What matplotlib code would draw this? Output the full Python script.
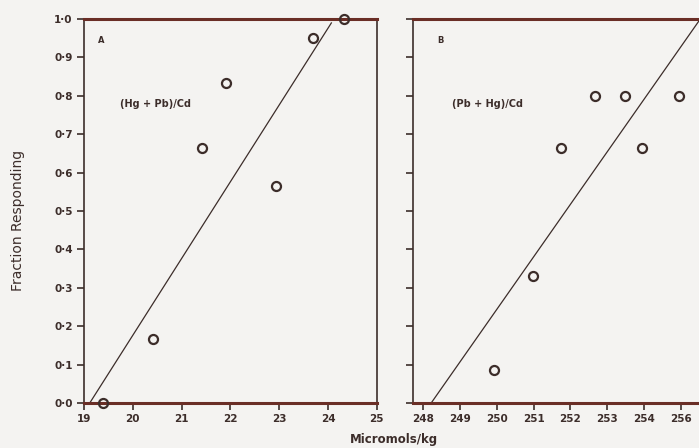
import matplotlib
matplotlib.use("Agg")
import matplotlib.pyplot as plt
import numpy as np

# panel A: (Hg + Pb)/Cd
a_dose = [19.4, 20.42, 21.42, 21.92, 22.94, 23.7, 24.33]
a_frac = [0.0, 0.167, 0.665, 0.834, 0.565, 0.95, 1.0]
a_fit_x = [19.12, 24.07]
a_fit_y = [0.0, 0.99]
a_xticks = [19, 20, 21, 22, 23, 24, 25]
a_xlabels = ["19", "20", "21", "22", "23", "24", "25"]

# panel B: (Pb + Hg)/Cd
b_dose = [249.93, 250.97, 251.73, 252.66, 253.48, 253.94, 254.95]
b_frac = [0.086, 0.33, 0.665, 0.80, 0.80, 0.665, 0.80]
b_fit_x = [248.22, 255.52]
b_fit_y = [0.0, 1.0]
b_xticks = [248, 249, 250, 251, 252, 253, 254, 255]
b_xlabels = ["248", "249", "250", "251", "252", "253", "254", "256"]

yticks = [0.0, 0.1, 0.2, 0.3, 0.4, 0.5, 0.6, 0.7, 0.8, 0.9, 1.0]
ylabels = ["0·0", "0·1", "0·2", "0·3", "0·4", "0·5", "0·6", "0·7", "0·8", "0·9", "1·0"]

INK = "#3c2d2a"
RULE = "#6a2e26"
PAPER = "#f4f3f1"

fig = plt.figure(figsize=(6.99, 4.48), dpi=100, facecolor=PAPER)
ax_a = fig.add_axes([0.120, 0.1004, 0.419, 0.857])
ax_b = fig.add_axes([0.591, 0.1004, 0.415, 0.857])


def style_axis(ax, xticks, xlabels, xlim, show_ylabels):
    ax.set_facecolor(PAPER)
    ax.set_xlim(*xlim)
    ax.set_ylim(0.0, 1.0)
    ax.set_xticks(xticks)
    ax.set_xticklabels(xlabels, fontsize=7.5, fontweight="bold", color=INK)
    ax.set_yticks(yticks)
    if show_ylabels:
        ax.set_yticklabels(ylabels, fontsize=7.5, fontweight="bold", color=INK)
    else:
        ax.set_yticklabels([])
    ax.tick_params(direction="out", length=5, width=1.2, color=INK, pad=3)
    for side in ("top", "bottom"):
        ax.spines[side].set_linewidth(2.2)
        ax.spines[side].set_color(RULE)
    for side in ("left", "right"):
        ax.spines[side].set_linewidth(1.2)
        ax.spines[side].set_color(INK)


style_axis(ax_a, a_xticks, a_xlabels, (19.0, 25.0), True)
style_axis(ax_b, b_xticks, b_xlabels, (247.73, 255.6), False)

for ax, xs, ys, fx, fy in [
    (ax_a, a_dose, a_frac, a_fit_x, a_fit_y),
    (ax_b, b_dose, b_frac, b_fit_x, b_fit_y),
]:
    ax.plot(fx, fy, color=INK, linewidth=0.9, clip_on=False)
    ax.plot(xs, ys, linestyle="none", marker="o", markersize=6.5,
            markerfacecolor="none", markeredgecolor=INK, markeredgewidth=1.6,
            clip_on=False, zorder=5)

ax_a.text(0.06, 0.945, "A", transform=ax_a.transAxes, fontsize=6,
          fontweight="bold", color=INK, ha="center", va="center")
ax_a.text(0.125, 0.78, "(Hg + Pb)/Cd", transform=ax_a.transAxes, fontsize=7,
          fontweight="bold", color=INK, va="center")
ax_b.text(0.095, 0.945, "B", transform=ax_b.transAxes, fontsize=6,
          fontweight="bold", color=INK, ha="center", va="center")
ax_b.text(0.135, 0.78, "(Pb + Hg)/Cd", transform=ax_b.transAxes, fontsize=7,
          fontweight="bold", color=INK, va="center")

fig.text(0.026, 0.509, "Fraction Responding", rotation=90, fontsize=10,
         fontweight="medium", color=INK, ha="center", va="center")
fig.text(0.564, 0.018, "Micromols/kg", fontsize=8.5, fontweight="bold",
         color=INK, ha="center", va="center")

fig.savefig("out.png", dpi=100, facecolor=PAPER)
